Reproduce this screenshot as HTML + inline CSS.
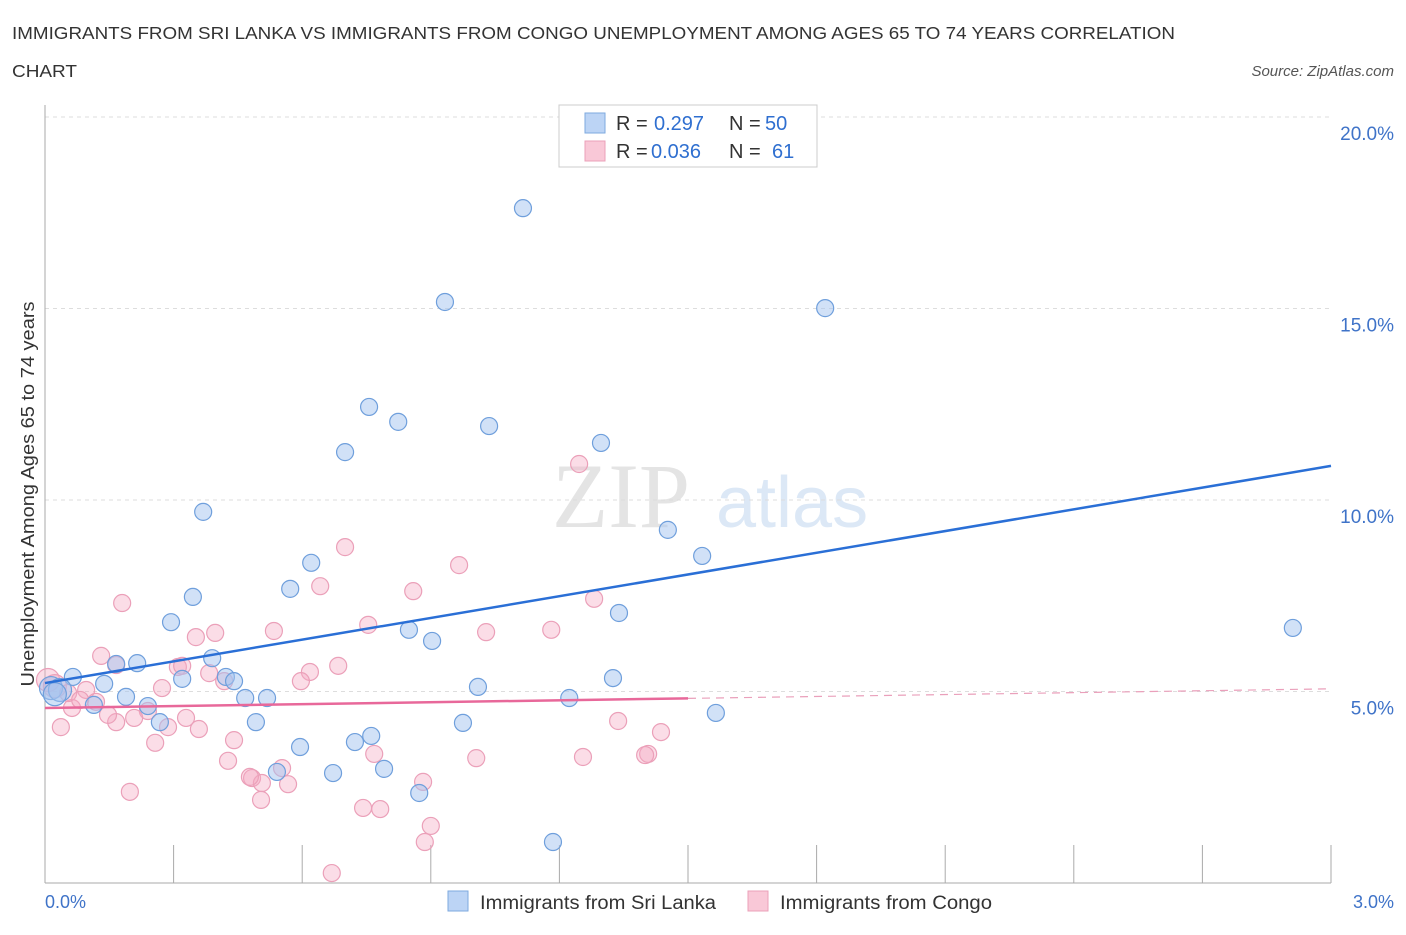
<!DOCTYPE html>
<html><head><meta charset="utf-8"><style>
body{margin:0;background:#fff;font-family:"Liberation Sans",sans-serif;}
</style></head><body>
<svg id="chart" width="1406" height="930" xmlns="http://www.w3.org/2000/svg" font-family="Liberation Sans, sans-serif">
<text x="12" y="39" font-size="17.5" fill="#333" textLength="1163" lengthAdjust="spacingAndGlyphs">IMMIGRANTS FROM SRI LANKA VS IMMIGRANTS FROM CONGO UNEMPLOYMENT AMONG AGES 65 TO 74 YEARS CORRELATION</text>
<text x="12" y="77" font-size="17.5" fill="#333" textLength="65" lengthAdjust="spacingAndGlyphs">CHART</text>
<text x="1394" y="76" font-size="15" fill="#555" font-style="italic" text-anchor="end">Source: ZipAtlas.com</text>
<text x="552" y="527" font-size="92" fill="#e4e4e4" font-family="Liberation Serif, serif">ZIP</text>
<text x="716" y="527" font-size="72" fill="#dce8f6">atlas</text>
<g id="grid"></g>
<g id="axes"></g>
<g id="pink-pts"></g>
<g id="blue-pts"></g>
<g id="lines"></g>
<text transform="translate(34,494) rotate(-90)" font-size="18" fill="#333" text-anchor="middle" textLength="385" lengthAdjust="spacingAndGlyphs">Unemployment Among Ages 65 to 74 years</text>
<text x="45" y="908" font-size="18" fill="#3f73c8">0.0%</text>
<text x="1394" y="908" font-size="18" fill="#3f73c8" text-anchor="end">3.0%</text>
<g font-size="20">
<rect x="559" y="105" width="258" height="62" fill="#fff" stroke="#ccc"/>
<rect x="585" y="113" width="20" height="20" fill="#bcd4f5" stroke="#7eaadf"/>
<rect x="585" y="141" width="20" height="20" fill="#f9c8d7" stroke="#eba0b9"/>
<text x="616" y="130" fill="#333">R =</text>
<text x="654" y="130" fill="#2f6fd0">0.297</text>
<text x="729" y="130" fill="#333">N =</text>
<text x="765" y="130" fill="#2f6fd0">50</text>
<text x="616" y="158" fill="#333">R =</text>
<text x="651" y="158" fill="#2f6fd0">0.036</text>
<text x="729" y="158" fill="#333">N =</text>
<text x="772" y="158" fill="#2f6fd0">61</text>
</g>
<g>
<rect x="448" y="891" width="20" height="20" fill="#bcd4f5" stroke="#7eaadf"/>
<text x="480" y="909" font-size="19" fill="#333" textLength="236" lengthAdjust="spacingAndGlyphs">Immigrants from Sri Lanka</text>
<rect x="748" y="891" width="20" height="20" fill="#f9c8d7" stroke="#eba0b9"/>
<text x="780" y="909" font-size="19" fill="#333" textLength="212" lengthAdjust="spacingAndGlyphs">Immigrants from Congo</text>
</g>
</svg>
<script>
const yTicks=[5,10,15,20];
const yTickLabels=["5.0%","10.0%","15.0%","20.0%"];
const blueX=[1.115,0.933,1.820,0.756,0.824,1.036,1.297,0.700,0.369,1.453,1.533,0.621,0.572,0.345,1.339,0.294,0.849,0.903,2.911,0.390,0.215,0.166,0.422,0.441,0.320,0.065,0.138,0.014,1.010,0.189,0.467,0.518,1.223,1.325,0.240,0.114,1.565,0.268,0.492,0.975,0.761,0.723,0.595,0.791,0.672,0.541,0.873,1.185,0.035,0.023];
const blueY=[17.62,15.17,15.01,12.43,12.04,11.93,11.49,11.25,9.69,9.22,8.54,8.36,7.68,7.47,7.05,6.81,6.61,6.32,6.66,5.87,5.74,5.72,5.38,5.27,5.33,5.38,5.20,5.09,5.12,4.86,4.83,4.83,4.83,5.35,4.62,4.65,4.44,4.20,4.20,4.18,3.84,3.68,3.55,2.98,2.87,2.90,2.35,1.07,5.04,4.93];
const pinkX=[1.246,0.700,0.966,0.642,0.859,1.281,0.180,0.754,1.181,1.029,0.534,0.397,0.352,0.131,0.166,0.310,0.320,0.383,0.418,0.684,0.618,0.597,0.273,0.007,0.023,0.096,0.119,0.063,0.240,0.329,0.208,0.166,0.147,0.037,0.287,0.359,1.337,1.437,0.441,0.257,0.768,1.006,1.255,1.407,0.427,0.553,0.483,0.506,0.478,0.567,0.882,0.198,0.504,0.742,0.782,0.900,0.886,0.669,1.400,0.054,0.082];
const pinkY=[10.94,8.77,8.30,7.75,7.62,7.42,7.31,6.74,6.61,6.55,6.58,6.53,6.42,5.93,5.69,5.64,5.67,5.48,5.27,5.67,5.51,5.27,5.09,5.30,5.14,5.04,4.73,4.57,4.49,4.31,4.31,4.20,4.39,4.07,4.07,4.02,4.23,3.94,3.73,3.66,3.37,3.26,3.29,3.37,3.19,3.00,2.74,2.61,2.77,2.58,2.64,2.38,2.17,1.96,1.93,1.49,1.07,0.26,3.34,4.96,4.78];
const blueTrend=[5.22,10.89];
const pinkTrend=[4.57,5.07];
const NS="http://www.w3.org/2000/svg";
const X0=45,X1=1331,Y0=883,PPY=38.3;
const sx=v=>X0+(v/3)*(X1-X0);
const sy=v=>Y0-v*PPY;
function mk(tag,attrs,parent){const e=document.createElementNS(NS,tag);for(const k in attrs)e.setAttribute(k,attrs[k]);parent.appendChild(e);return e;}
const grid=document.getElementById('grid');
yTicks.forEach((t,i)=>{
 const l=mk('line',{x1:X0,x2:X1,y1:sy(t),y2:sy(t),stroke:'#ddd','stroke-dasharray':'4,4'},grid);
 
 
 const tx=mk('text',{x:1394,y:sy(t)+23,'font-size':19,fill:'#3f73c8','text-anchor':'end'},grid);
 tx.textContent=yTickLabels[i];
 
 
});
const tl=mk('line',{x1:X0,x2:X1,y1:117,y2:117,stroke:'#ddd','stroke-dasharray':'4,4'},grid);


const axes=document.getElementById('axes');
const ya=mk('line',{x1:X0,x2:X0,y1:105,y2:Y0,stroke:'#aaa'},axes);


const xa=mk('line',{x1:X0,x2:X1,y1:Y0,y2:Y0,stroke:'#aaa'},axes);


for(let i=1;i<=10;i++){const t=mk('line',{x1:sx(i*0.3),x2:sx(i*0.3),y1:845,y2:Y0,stroke:'#aaa'},axes);
 
 }
function pts(xs,ys,g,fill,stroke,name,big){
 xs.forEach((x,i)=>{const r=(x<big)?11.5:8.5;
  const c=mk('circle',{cx:sx(x),cy:sy(ys[i]),r:r,fill:fill,stroke:stroke,'stroke-width':1.2},g);
  
  });
}
pts(pinkX,pinkY,document.getElementById('pink-pts'),'rgba(244,170,195,0.4)','#eba0b9','congo-point',0.03);
pts(blueX,blueY,document.getElementById('blue-pts'),'rgba(164,196,240,0.5)','#6f9fdc','sri-lanka-point',0.04);
const lines=document.getElementById('lines');
const bl=mk('line',{x1:sx(0),y1:sy(blueTrend[0]),x2:sx(3),y2:sy(blueTrend[1]),stroke:'#2a6fd6','stroke-width':2.5},lines);


const pm=pinkTrend[0]+(pinkTrend[1]-pinkTrend[0])*0.5;
const pl=mk('line',{x1:sx(0),y1:sy(pinkTrend[0]),x2:sx(1.5),y2:sy(pm),stroke:'#e8689a','stroke-width':2.5},lines);


const pd=mk('line',{x1:sx(1.5),y1:sy(pm),x2:sx(3),y2:sy(pinkTrend[1]),stroke:'#eaa0bb','stroke-width':1.2,'stroke-dasharray':'8,6'},lines);


</script>
</body></html>
